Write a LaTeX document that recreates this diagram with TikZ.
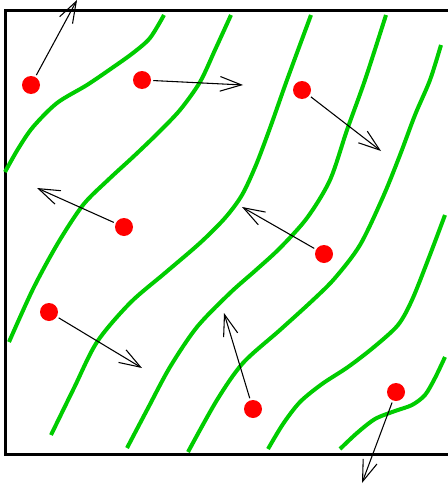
\documentclass[tikz,border=0pt]{standalone}
\usetikzlibrary{arrows.meta}
\definecolor{lgreen}{RGB}{0,204,0}
\begin{document}
\begin{tikzpicture}[x=0.75pt,y=-0.75pt,
  stream/.style={draw=lgreen,line width=3pt,line cap=butt},
  dot/.style={circle,fill=red,inner sep=0pt,minimum size=13.5pt},
  vel/.style={line width=0.8pt,shorten <=1.5pt,-{Straight Barb[length=16pt,width=11pt,line width=0.8pt]}},
  frame/.style={draw=black,line width=2.25pt}]
\useasboundingbox (0,0) rectangle (448,489);
% frame
\draw[frame] (5,10) rectangle (455,454);
% streamlines
\draw[stream] plot[smooth,tension=0.5] coordinates {(5,172) (18,149) (33,127) (57,103) (87,85) (112,68) (133,53) (150,38) (164,15)};
\draw[stream] plot[smooth,tension=0.5] coordinates {(9,342) (33,289) (58,243) (83,205) (108,180) (133,157) (157,134) (180,110) (200,82) (215,50) (231,15)};
\draw[stream] plot[smooth,tension=0.5] coordinates {(51,435) (74,388) (97,342) (130,303) (165,273) (200,243) (225,218) (242,195) (256,165) (270,128) (287,80) (311,15)};
\draw[stream] plot[smooth,tension=0.5] coordinates {(127,448) (147,410) (170,367) (197,327) (230,293) (256,270) (280,248) (307,218) (330,180) (347,130) (365,80) (386,15)};
\draw[stream] plot[smooth,tension=0.5] coordinates {(188,452) (217,400) (243,363) (280,330) (313,300) (335,278) (360,245) (383,197) (400,155) (415,115) (430,80) (441,45)};
\draw[stream] plot[smooth,tension=0.5] coordinates {(268,449) (283,424) (300,402) (322,384) (348,367) (374,347) (398,325) (412,300) (428,260) (445,215)};
\draw[stream] plot[smooth,tension=0.5] coordinates {(340,449) (357,433) (375,419) (395,411) (412,405) (425,395) (435,378) (445,357)};
% particles
\node[dot] (d1) at (31,85) {};
\node[dot] (d2) at (142,80) {};
\node[dot] (d3) at (302,90) {};
\node[dot] (d4) at (124,227) {};
\node[dot] (d5) at (324,254) {};
\node[dot] (d6) at (49,312) {};
\node[dot] (d7) at (253,409) {};
\node[dot] (d8) at (396,392) {};
% velocity tips
\coordinate (t1) at (77,0);
\coordinate (t2) at (243,85);
\coordinate (t3) at (381,151);
\coordinate (t4) at (37,188);
\coordinate (t5) at (242,207);
\coordinate (t6) at (142,368);
\coordinate (t7) at (224,313);
\coordinate (t8) at (362,483);
\foreach \i in {1,...,8}{\draw[vel] (d\i) -- (t\i);}
\end{tikzpicture}
\end{document}
